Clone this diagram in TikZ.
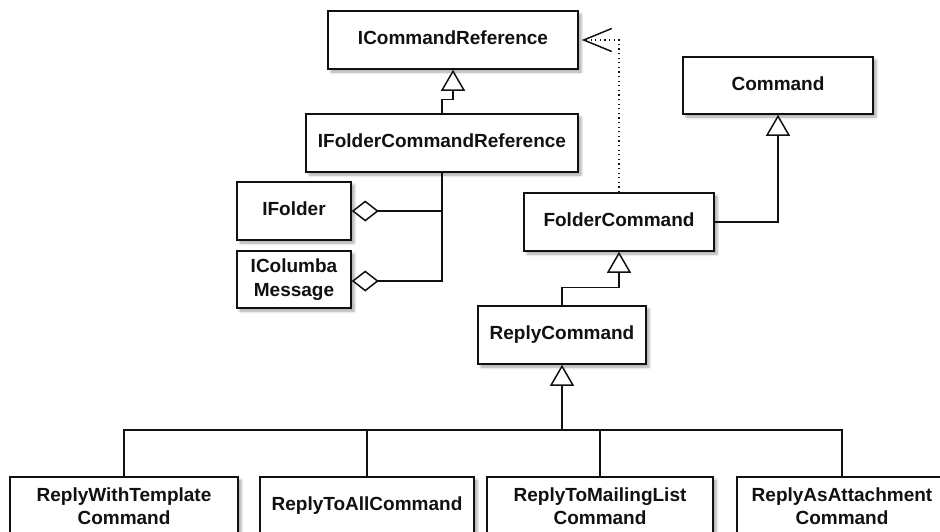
\documentclass[tikz,border=0pt]{standalone}
\usepackage{fontspec}
\setmainfont{Liberation Sans}
\usetikzlibrary{arrows.meta,shadows.blur}
\definecolor{ink}{HTML}{111111}
\tikzset{
  cls/.style={draw=ink, line width=1.5pt, fill=white, inner sep=0pt,
    font=\bfseries\fontsize{19}{23}\selectfont, text=ink, align=center,
    blur shadow={shadow xshift=3pt, shadow yshift=-3pt, shadow blur radius=2.5pt, shadow opacity=35}},
  one/.style={text depth=4pt},
  conn/.style={draw=ink, line width=1.5pt},
  gen/.style={conn, -{Triangle[length=21pt,width=24pt,fill=white,line width=1.5pt]}},
  agg/.style={conn, -{Diamond[length=27pt,width=21pt,fill=white,line width=1.5pt]}},
  dep/.style={draw=ink, line width=1.2pt, dash pattern=on 1.2pt off 3.4pt,
    -{Straight Barb[length=28pt,width=23pt,line width=1.5pt]}, shorten >=3pt},
}
\begin{document}
\begin{tikzpicture}[x=1pt,y=-1pt]
\useasboundingbox (0,0) rectangle (940,531);
\clip (0,0) rectangle (940,531);

% interfaces and base classes
\node[cls,one,minimum width=250,minimum height=58] (icr) at (453,40) {ICommandReference};
\node[cls,one,minimum width=272,minimum height=58] (ifcr) at (442,143) {IFolderCommandReference};
\node[cls,one,minimum width=114,minimum height=58] (ifolder) at (294,211) {IFolder};
\node[cls,minimum width=114,minimum height=57,font=\bfseries\fontsize{19}{24}\selectfont] (icol) at (294,279.5) {IColumba\\Message};
\node[cls,one,minimum width=190,minimum height=57] (cmd) at (778,85.5) {Command};
\node[cls,one,minimum width=190,minimum height=58] (fc) at (619,222) {FolderCommand};
\node[cls,one,minimum width=168,minimum height=58] (rc) at (562,335) {ReplyCommand};

% concrete reply commands
\node[cls,minimum width=228,minimum height=58] (b1) at (124,506) {ReplyWithTemplate\\Command};
\node[cls,one,minimum width=214,minimum height=58] (b2) at (367,506) {ReplyToAllCommand};
\node[cls,minimum width=226,minimum height=58] (b3) at (600,506) {ReplyToMailingList\\Command};
\node[cls,minimum width=210,minimum height=58] (b4) at (842,506) {ReplyAsAttachment\\Command};

% generalisations
\draw[gen] (ifcr.north) -- ++(0,-14) -| (icr.south);
\draw[gen] (fc.east) -| (cmd.south);
\draw[gen] (rc.north) -- ++(0,-18) -| (fc.south);

% dependency
\draw[dep] (fc.north) |- (icr.east);

% aggregations
\draw[agg] (ifcr.south) |- (ifolder.east);
\draw[agg] (ifcr.south) |- ([yshift=-1.5pt]icol.east);

% inheritance tree of the reply commands
\coordinate (bus) at (562,430);
\draw[conn] (b1.north) |- (bus);
\draw[conn] (b4.north) |- (bus);
\draw[conn] (b2.north) -- (b2.north |- bus);
\draw[conn] (b3.north) -- (b3.north |- bus);
\draw[gen] (bus) -- (rc.south);
\end{tikzpicture}
\end{document}
